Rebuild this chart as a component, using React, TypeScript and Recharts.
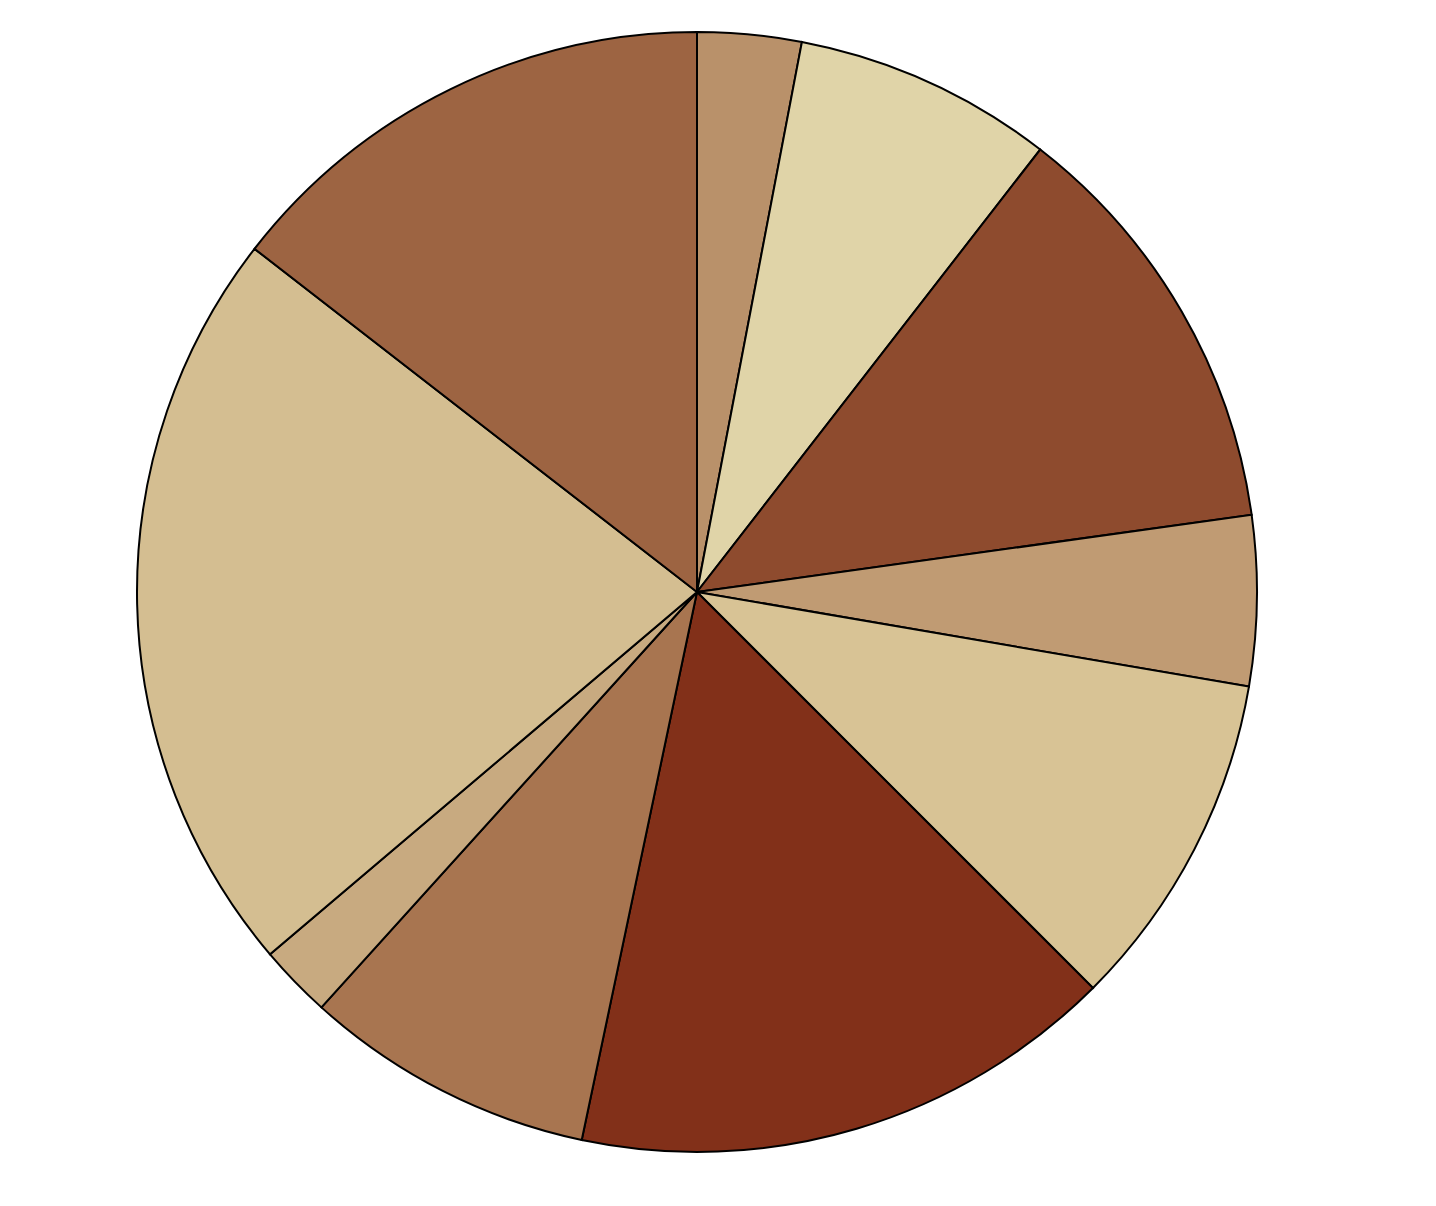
import { PieChart, Pie, Cell } from 'recharts';

const shares = [3.0, 7.5, 12.3, 4.9, 9.8, 15.8, 8.4, 2.1, 21.7, 14.5];
const sliceColors = [
  '#b9916a', '#e0d4a8', '#8e4b2e', '#c09b73', '#d8c395',
  '#823019', '#a87550', '#c8aa80', '#d4be91', '#9d6442',
];
const sliceNames = ['A', 'B', 'C', 'D', 'E', 'F', 'G', 'H', 'I', 'J'];

const data = shares.map((value, i) => ({ name: sliceNames[i], value, color: sliceColors[i] }));

export default function App() {
  return (
    <PieChart width={1420} height={1190} margin={{ top: 0, right: 0, bottom: 0, left: 0 }}>
      <Pie
        data={data}
        dataKey="value"
        cx={689}
        cy={584}
        innerRadius={0}
        outerRadius={560}
        startAngle={90}
        endAngle={-270}
        stroke="#000"
        strokeWidth={2}
        isAnimationActive={false}
      >
        {data.map((entry, index) => (
          <Cell key={`cell-${index}`} fill={entry.color} />
        ))}
      </Pie>
    </PieChart>
  );
}
